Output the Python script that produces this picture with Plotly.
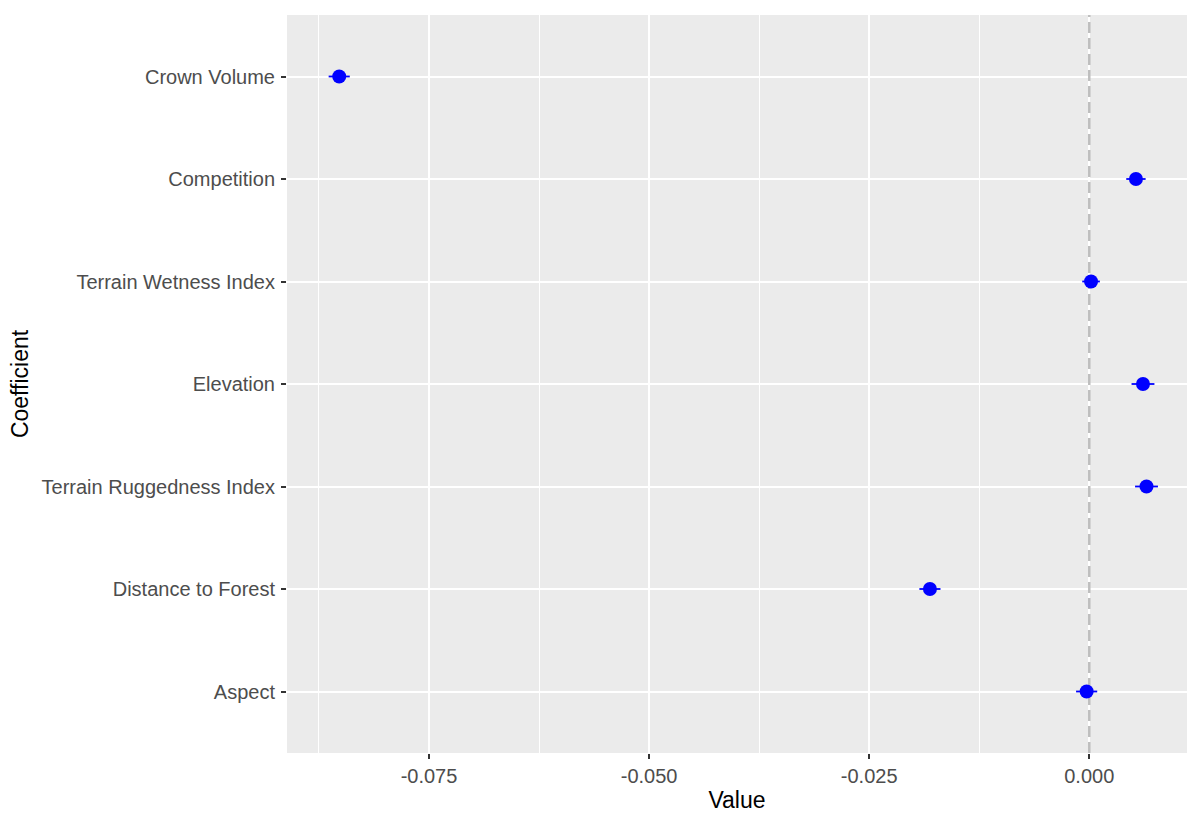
import plotly.graph_objects as go

# Model coefficients (estimate and half-width of interval), bottom to top
coefficients = ["Aspect", "Distance to Forest", "Terrain Ruggedness Index",
                "Elevation", "Terrain Wetness Index", "Competition", "Crown Volume"]
estimates = [-0.0003, -0.0181, 0.0065, 0.0061, 0.0002, 0.0053, -0.0852]
half_widths = [0.0012, 0.0012, 0.0013, 0.0013, 0.0010, 0.0011, 0.0012]

x_tickvals = [-0.075, -0.050, -0.025, 0.000]
x_ticktext = ["-0.075", "-0.050", "-0.025", "0.000"]

positions = list(range(len(coefficients)))
y_lo, y_hi = -0.6, len(coefficients) - 1 + 0.6

fig = go.Figure()

# Reference line at zero, drawn beneath the points
fig.add_trace(go.Scatter(
    x=[0, 0], y=[y_lo, y_hi], mode="lines",
    line=dict(color="#BEBEBE", width=2.5, dash="11px,5px"),
    hoverinfo="skip", showlegend=False,
))

fig.add_trace(go.Scatter(
    x=estimates,
    y=positions,
    text=coefficients,
    mode="markers",
    marker=dict(color="#0000FF", size=14, line=dict(width=0)),
    error_x=dict(type="data", array=half_widths, color="#0000FF",
                 thickness=1.8, width=0),
    showlegend=False,
))

tick_font = dict(family="Liberation Sans, Arial, sans-serif", size=20, color="#4D4D4D")
title_font = dict(family="Liberation Sans, Arial, sans-serif", size=23, color="#000000")

fig.update_layout(
    width=1187, height=813,
    margin=dict(l=287, r=0, t=15, b=60),
    paper_bgcolor="white",
    plot_bgcolor="#EBEBEB",
    xaxis=dict(
        range=[-0.09113, 0.0111],
        tickvals=x_tickvals, ticktext=x_ticktext,
        showgrid=True, gridcolor="white", gridwidth=1.8,
        minor=dict(dtick=0.0125, tick0=0, showgrid=True, gridcolor="white",
                   gridwidth=0.9, ticks=""),
        zeroline=False, showline=False,
        ticks="outside", ticklen=5, tickwidth=1.5, tickcolor="#333333",
        tickfont=tick_font,
        title=dict(text="Value", font=title_font, standoff=7),
    ),
    yaxis=dict(
        range=[y_lo, y_hi],
        tickvals=positions, ticktext=coefficients,
        showgrid=True, gridcolor="white", gridwidth=1.8,
        zeroline=False, showline=False,
        ticks="outside", ticklen=5, tickwidth=1.5, tickcolor="#333333",
        tickfont=tick_font, ticklabelstandoff=2,
        title=dict(text="Coefficient", font=title_font, standoff=6),
    ),
)

fig.write_html("out.html")
